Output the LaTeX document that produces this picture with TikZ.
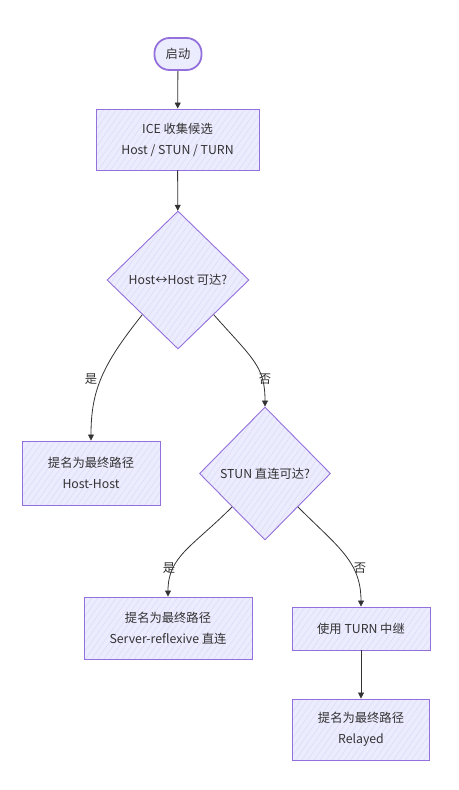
\documentclass[tikz,border=0pt]{standalone}
\usepackage{fontspec}
\setmainfont{Noto Sans CJK SC}
\usetikzlibrary{shapes.geometric,arrows.meta,calc,patterns.meta}
\definecolor{nodefill}{HTML}{ECECFF}
\definecolor{nodeline}{HTML}{9370DB}
\definecolor{hatch}{HTML}{DEDAF6}
\definecolor{txt}{HTML}{333333}
\begin{document}
\begin{tikzpicture}[x=1pt,y=-1pt,
  every node/.style={font=\fontsize{12.3}{21}\selectfont, text=txt},
  hatched/.style={preaction={fill=nodefill}, preaction={pattern={Lines[angle=55,distance=5pt,line width=0.5pt]}, pattern color=hatch}},
  procbox/.style={hatched, draw=nodeline, line width=0.9pt, rectangle, align=center, inner sep=0pt},
  decbox/.style={hatched, draw=nodeline, line width=0.9pt, diamond, align=center, inner sep=0pt},
  startbox/.style={draw=nodeline, fill=nodefill, line width=1.8pt, rounded corners=15pt, inner sep=0pt},
  link/.style={draw=txt, line width=0.8pt, -{Triangle[length=6pt,width=6pt]}},
  elabel/.style={font=\fontsize{12.3}{14}\selectfont}]
\useasboundingbox (0,0) rectangle (458,790);
\node[startbox, minimum width=47pt, minimum height=32pt] (start) at (178,54) {启动};
\node[procbox, minimum width=163pt, minimum height=61pt] (ice) at (177.5,139.5) {ICE 收集候选\\Host / STUN / TURN};
\node[decbox, minimum width=142pt, minimum height=138pt] (d1) at (178,280) {Host↔Host 可达?};
\node[procbox, minimum width=138pt, minimum height=64pt] (hh) at (91,473) {提名为最终路径\\Host-Host};
\node[decbox, minimum width=131pt, minimum height=133pt] (d2) at (265,473.5) {STUN 直连可达?};
\node[procbox, minimum width=168pt, minimum height=62pt] (srv) at (168,628) {提名为最终路径\\Server-reflexive 直连};
\node[procbox, minimum width=138pt, minimum height=43pt] (turn) at (361,628.5) {使用 TURN 中继};
\node[procbox, minimum width=137pt, minimum height=61pt] (rel) at (361,729.5) {提名为最终路径\\Relayed};

\draw[link] (start) -- (ice);
\draw[link] (ice) -- (d1);
\draw[link] ($(d1.south)!0.5!(d1.west)$) .. controls +(-40,50) and +(0,-50) .. (hh.north);
\draw[link] ($(d1.south)!0.5!(d1.east)$) .. controls +(40,45) and +(0,-40) .. (d2.north);
\draw[link] ($(d2.south)!0.5!(d2.west)$) .. controls +(-40,40) and +(0,-40) .. (srv.north);
\draw[link] ($(d2.south)!0.5!(d2.east)$) .. controls +(40,40) and +(0,-45) .. (turn.north);
\draw[link] (turn) -- (rel);

\node[elabel] (l1) at (91,379) {是};
\node[elabel] (l2) at (265,379) {否};
\node[elabel] (l3) at (169,568) {是};
\node[elabel] (l4) at (360,568) {否};
\end{tikzpicture}
\end{document}
